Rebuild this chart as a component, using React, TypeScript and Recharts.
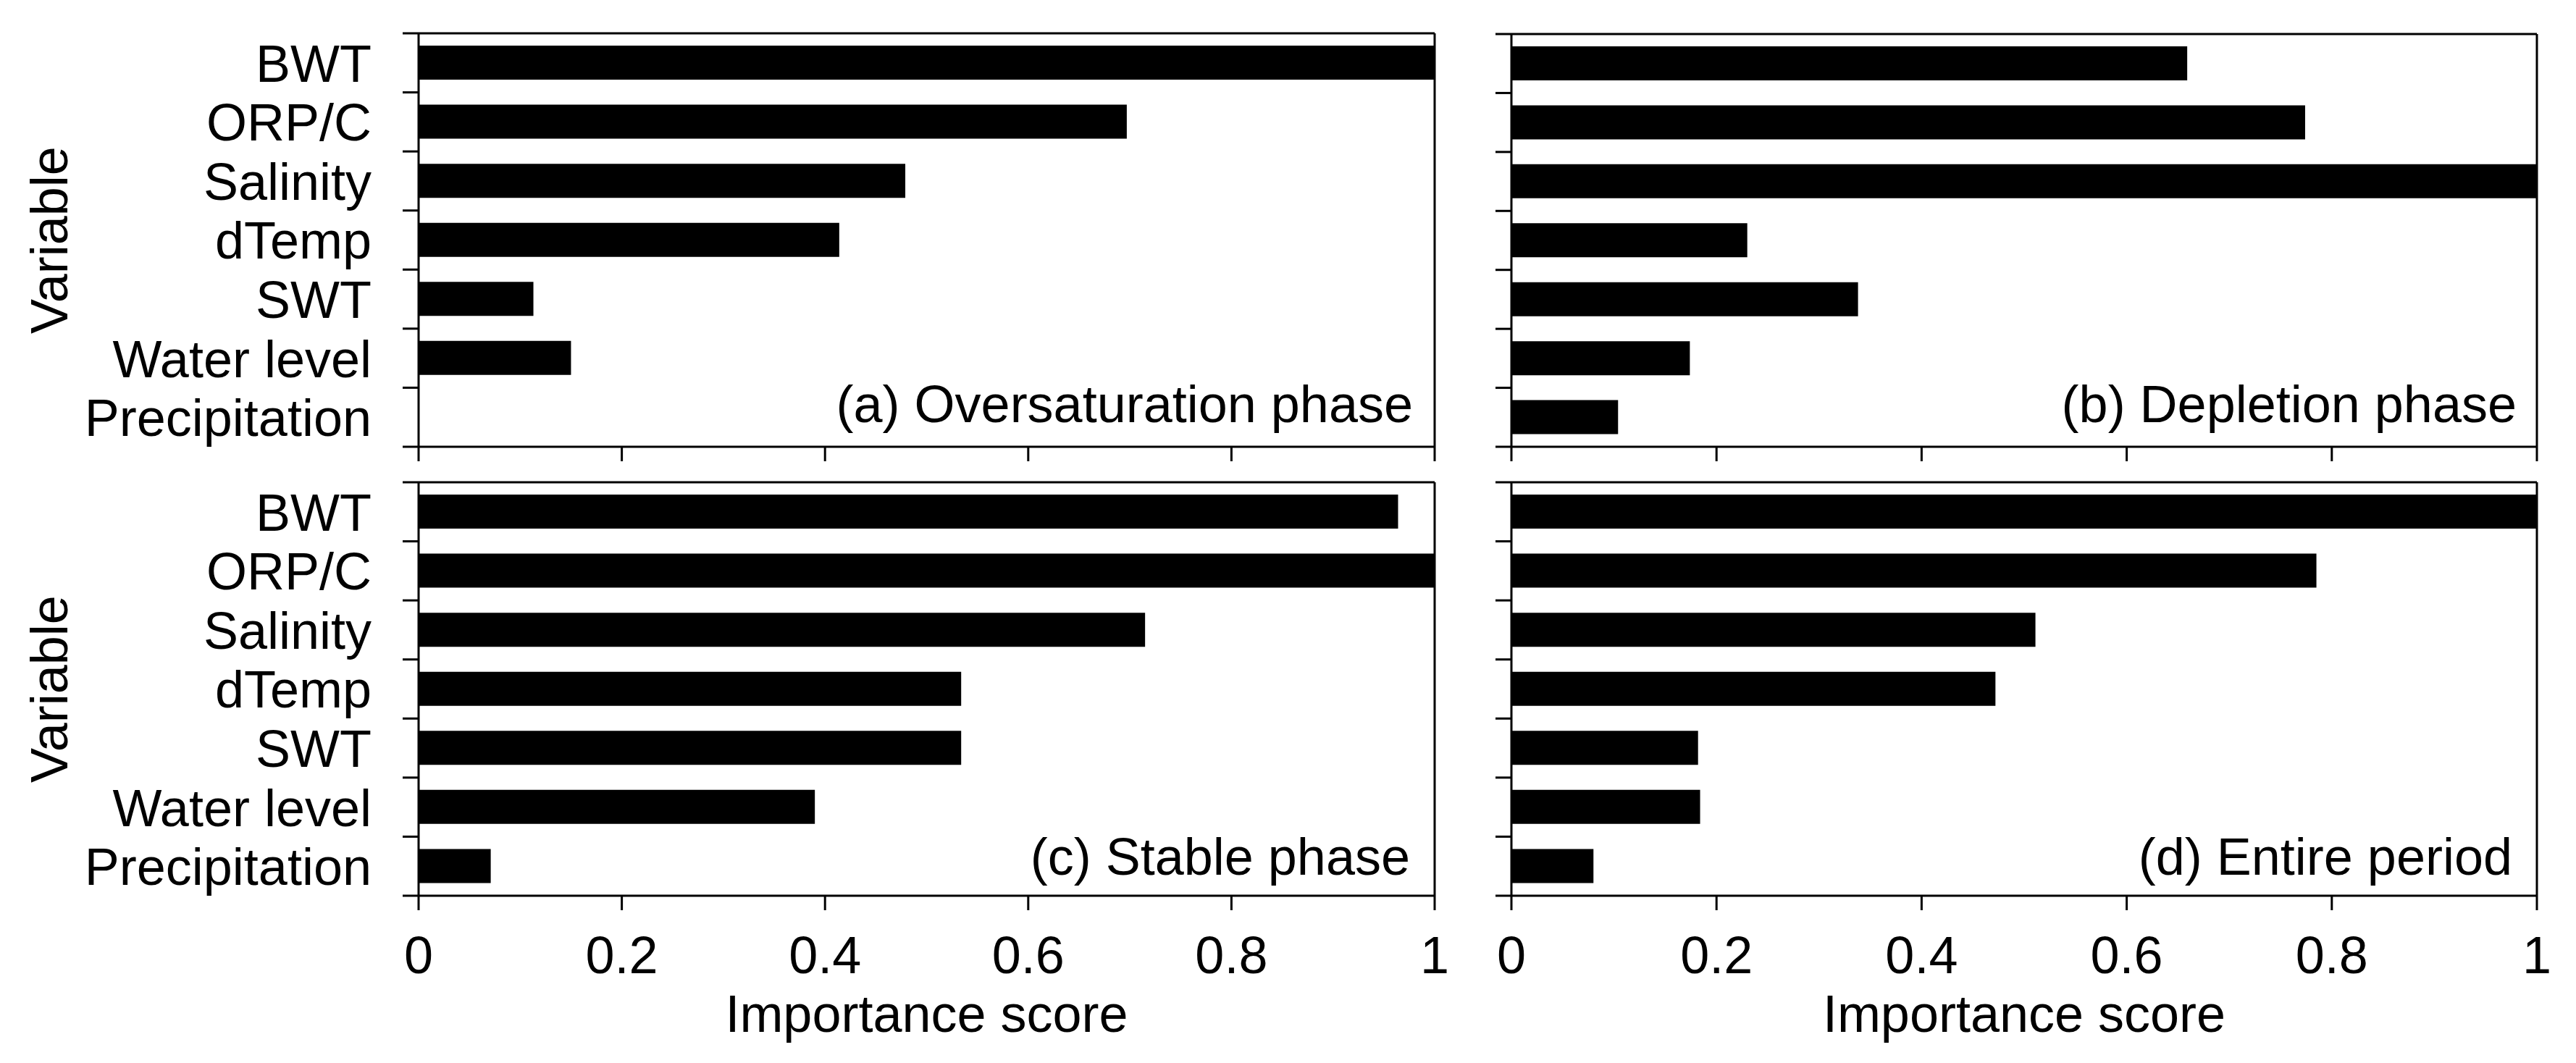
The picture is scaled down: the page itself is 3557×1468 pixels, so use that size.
import React from 'react';
import { BarChart, Bar, XAxis, YAxis, CartesianGrid, ReferenceLine } from 'recharts';

const categories = ['BWT', 'ORP/C', 'Salinity', 'dTemp', 'SWT', 'Water level', 'Precipitation'];
const oversaturationPhase = [1.0, 0.697, 0.479, 0.414, 0.113, 0.15, 0];
const depletionPhase = [0.659, 0.774, 1.0, 0.23, 0.338, 0.174, 0.104];
const stablePhase = [0.964, 1.0, 0.715, 0.534, 0.534, 0.39, 0.071];
const entirePeriod = [1.0, 0.785, 0.511, 0.472, 0.182, 0.184, 0.08];
const xTicks = [0, 0.2, 0.4, 0.6, 0.8, 1];
const panelTitles = ['(a) Oversaturation phase', '(b) Depletion phase', '(c) Stable phase', '(d) Entire period'];
const xAxisTitle = 'Importance score';
const yAxisTitle = 'Variable';

const FONT = '"Liberation Sans", Arial, Helvetica, sans-serif';
const FS = 72;
const LINE = { stroke: '#000', strokeWidth: 3 };
const RIGHT_MARGIN = 30;

type PanelProps = {
  values: number[];
  title: string;
  left: number;
  top: number;
  width: number;
  height: number;
  yAxisWidth: number;
  marginTop: number;
  xAxisHeight: number;
  showCategoryLabels: boolean;
  showXLabels: boolean;
  titleRight: number;
  titleBottom: number;
};

function Panel(props: PanelProps) {
  const {
    values, title, left, top, width, height, yAxisWidth, marginTop, xAxisHeight,
    showCategoryLabels, showXLabels, titleRight, titleBottom,
  } = props;
  const data = categories.map((name, i) => ({ name, value: values[i] }));
  const plotH = height - marginTop - xAxisHeight;
  const band = plotH / categories.length;

  const renderYTick = (p: any) => {
    const { x, y, index, payload } = p;
    const yTop = y - band / 2;
    const yBot = y + band / 2;
    return (
      <g>
        <line x1={x - 22} x2={x} y1={yTop} y2={yTop} stroke="#000" strokeWidth={3} />
        {index === categories.length - 1 ? (
          <line x1={x - 22} x2={x} y1={yBot} y2={yBot} stroke="#000" strokeWidth={3} />
        ) : null}
        {showCategoryLabels ? (
          <text x={x - 65} y={y} dy="0.36em" textAnchor="end" fontSize={FS} fontFamily={FONT} fill="#000">
            {payload.value}
          </text>
        ) : null}
      </g>
    );
  };

  const yLabel = showCategoryLabels
    ? {
        content: (lp: any) => {
          const vb = lp.viewBox || {};
          const cx = (vb.x || 0) + 67;
          const cy = (vb.y || 0) + (vb.height || 0) / 2;
          return (
            <text x={cx} y={cy} dy="0.36em" textAnchor="middle" fontSize={FS} fontFamily={FONT} fill="#000"
              transform={`rotate(-90 ${cx} ${cy})`}>
              {yAxisTitle}
            </text>
          );
        },
      }
    : undefined;

  const xLabel = showXLabels
    ? {
        content: (lp: any) => {
          const vb = lp.viewBox || {};
          return (
            <text x={(vb.x || 0) + (vb.width || 0) / 2} y={(vb.y || 0) + 188} textAnchor="middle" fontSize={FS}
              fontFamily={FONT} fill="#000">
              {xAxisTitle}
            </text>
          );
        },
      }
    : undefined;

  const titleLabel = {
    content: (lp: any) => {
      const vb = lp.viewBox || {};
      return (
        <text x={(vb.x || 0) - titleRight} y={(vb.y || 0) + (vb.height || 0) - titleBottom} textAnchor="end"
          fontSize={FS} fontFamily={FONT} fill="#000">
          {title}
        </text>
      );
    },
  };

  return (
    <div style={{ position: 'absolute', left, top, width, height }}>
      <BarChart
        width={width}
        height={height}
        layout="vertical"
        data={data}
        margin={{ top: marginTop, right: RIGHT_MARGIN, bottom: 0, left: 0 }}
        barSize={47}
      >
        <CartesianGrid
          stroke="#000"
          strokeWidth={3}
          vertical={false}
          horizontalCoordinatesGenerator={(gp: any) => [gp.offset.top]}
        />
        <XAxis
          type="number"
          domain={[0, 1]}
          ticks={xTicks}
          height={xAxisHeight}
          tickSize={20}
          tickMargin={36}
          tickLine={LINE}
          axisLine={LINE}
          tick={{ fontSize: FS, fontFamily: FONT, fill: '#000' }}
          tickFormatter={(v: number) => (showXLabels ? String(v) : '')}
          interval={0}
          label={xLabel as any}
        />
        <YAxis
          type="category"
          dataKey="name"
          width={yAxisWidth}
          tickSize={0}
          tickMargin={0}
          tickLine={false}
          axisLine={LINE}
          interval={0}
          tick={renderYTick}
          label={yLabel as any}
        />
        <Bar dataKey="value" fill="#000" isAnimationActive={false} />
        <ReferenceLine x={1} stroke="#000" strokeWidth={3} label={titleLabel as any} />
      </BarChart>
    </div>
  );
}

export default function App() {
  return (
    <div style={{ position: 'absolute', left: 0, top: 0, width: 3557, height: 1468, background: '#fff', overflow: 'hidden' }}>
      <Panel values={oversaturationPhase} title={panelTitles[0]} left={0} top={0} width={1981 + RIGHT_MARGIN} height={647}
        yAxisWidth={578} marginTop={46} xAxisHeight={30} showCategoryLabels={true} showXLabels={false}
        titleRight={30} titleBottom={34} />
      <Panel values={depletionPhase} title={panelTitles[1]} left={1995} top={0} width={3503 - 1995 + RIGHT_MARGIN} height={647}
        yAxisWidth={92} marginTop={47} xAxisHeight={30} showCategoryLabels={false} showXLabels={false}
        titleRight={28} titleBottom={34} />
      <Panel values={stablePhase} title={panelTitles[2]} left={0} top={620} width={1981 + RIGHT_MARGIN} height={837}
        yAxisWidth={578} marginTop={46} xAxisHeight={220} showCategoryLabels={true} showXLabels={true}
        titleRight={34} titleBottom={29} />
      <Panel values={entirePeriod} title={panelTitles[3]} left={1995} top={620} width={3503 - 1995 + RIGHT_MARGIN} height={837}
        yAxisWidth={92} marginTop={46} xAxisHeight={220} showCategoryLabels={false} showXLabels={true}
        titleRight={34} titleBottom={29} />
    </div>
  );
}
